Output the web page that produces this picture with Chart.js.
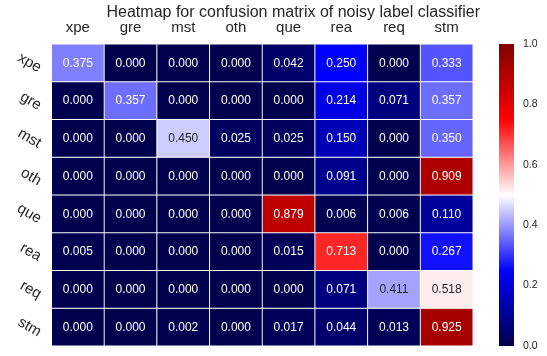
<!DOCTYPE html>
<html>
<head>
<meta charset="utf-8">
<script src="https://cdn.jsdelivr.net/npm/chart.js@4.4.1/dist/chart.umd.min.js"></script>
<style>
    html, body { margin: 0; padding: 0; background: #fff; }
    #wrap { position: relative; width: 547px; height: 356px; }
    #heat { position: absolute; left: 0; top: 0; }
    #bar { position: absolute; left: 490px; top: 0; }
</style>
</head>
<body>
<div id="wrap">
    <canvas id="heat" width="480" height="356"></canvas>
    <canvas id="bar" width="57" height="356"></canvas>
</div>
<script>
// ---------- 数据 ----------
const colLabels = ['xpe', 'gre', 'mst', 'oth', 'que', 'rea', 'req', 'stm'];
const rowLabels = ['xpe', 'gre', 'mst', 'oth', 'que', 'rea', 'req', 'stm'];

const rowXpe = [0.375, 0.000, 0.000, 0.000, 0.042, 0.250, 0.000, 0.333];
const rowGre = [0.000, 0.357, 0.000, 0.000, 0.000, 0.214, 0.071, 0.357];
const rowMst = [0.000, 0.000, 0.450, 0.025, 0.025, 0.150, 0.000, 0.350];
const rowOth = [0.000, 0.000, 0.000, 0.000, 0.000, 0.091, 0.000, 0.909];
const rowQue = [0.000, 0.000, 0.000, 0.000, 0.879, 0.006, 0.006, 0.110];
const rowRea = [0.005, 0.000, 0.000, 0.000, 0.015, 0.713, 0.000, 0.267];
const rowReq = [0.000, 0.000, 0.000, 0.000, 0.000, 0.071, 0.411, 0.518];
const rowStm = [0.000, 0.000, 0.002, 0.000, 0.017, 0.044, 0.013, 0.925];

const rows = [rowXpe, rowGre, rowMst, rowOth, rowQue, rowRea, rowReq, rowStm];

const cbTicks = [0, 0.2, 0.4, 0.6, 0.8, 1.0];

const FONT = '"Liberation Sans", Arial, sans-serif';
const TXT = '#262626';

// ---------- seismic 色图 ----------
const seismicStops = [[0, 0, 76.5], [0, 0, 255], [255, 255, 255], [255, 0, 0], [127.5, 0, 0]];

function seismic(v) {
    const t = Math.min(Math.max(v, 0), 1) * 4;
    const i = Math.min(Math.floor(t), 3);
    const f = t - i;
    const a = seismicStops[i], b = seismicStops[i + 1];
    return a.map((c, k) => Math.round(c + (b[k] - c) * f));
}

function luminance(rgb) {
    const lin = rgb.map(c => {
        c /= 255;
        return c <= 0.03928 ? c / 12.92 : Math.pow((c + 0.055) / 1.055, 2.4);
    });
    return 0.2126 * lin[0] + 0.7152 * lin[1] + 0.0722 * lin[2];
}

const rgbStr = c => 'rgb(' + c.join(',') + ')';

// 单元格数值
const cellText = {
    id: 'cellText',
    afterDatasetsDraw(chart) {
        const ctx = chart.ctx;
        ctx.save();
        ctx.font = '12px ' + FONT;
        ctx.textAlign = 'center';
        ctx.textBaseline = 'middle';
        chart.data.datasets.forEach((ds, r) => {
            chart.getDatasetMeta(r).data.forEach((bar, c) => {
                const v = ds.values[c];
                ctx.fillStyle = luminance(seismic(v)) > 0.408 ? TXT : '#ffffff';
                ctx.fillText(v.toFixed(3), bar.x, (bar.y + bar.base) / 2 + 0.5);
            });
        });
        ctx.restore();
    }
};

// ---------- 热力图 ----------
const yShift = 0.16;

new Chart(document.getElementById('heat'), {
    type: 'bar',
    data: {
        labels: colLabels,
        datasets: rows.map((vals, r) => ({
            values: vals,
            data: vals.map(() => [r, r + 1]),
            backgroundColor: vals.map(v => rgbStr(seismic(v))),
            borderColor: '#ffffff',
            borderWidth: 0.8,
            borderSkipped: false,
            grouped: false,
            barPercentage: 1,
            categoryPercentage: 1,
        }))
    },
    options: {
        responsive: false,
        animation: false,
        events: [],
        layout: { padding: { left: 0, right: 0, top: 0, bottom: 10 } },
        plugins: {
            legend: { display: false },
            tooltip: { enabled: false },
            title: {
                display: true,
                text: 'Heatmap for confusion matrix of noisy label classifier',
                align: 'end',
                color: TXT,
                font: { family: FONT, size: 16, weight: 'normal' },
                padding: { top: 3, bottom: 0 }
            }
        },
        scales: {
            x: {
                position: 'top',
                grid: { display: false, drawTicks: false },
                border: { display: false },
                ticks: { color: TXT, font: { family: FONT, size: 15 }, padding: 7 },
                afterFit: s => { s.height = 21.8; s.paddingLeft = 0; s.paddingRight = 0; }
            },
            y: {
                min: 0,
                max: 8,
                reverse: true,
                grid: { display: false, drawTicks: false },
                border: { display: false },
                ticks: {
                    color: TXT,
                    font: { family: FONT, size: 15 },
                    padding: 11.5,
                    minRotation: -30,
                    maxRotation: -30,
                    callback: (v, i) => rowLabels[i]
                },
                afterBuildTicks: s => { s.ticks = rowLabels.map((_, i) => ({ value: i + 0.5 + yShift })); },
                afterFit: s => { s.width = 51.5; s.paddingTop = 0; s.paddingBottom = 0; }
            },
            yR: {
                position: 'right',
                grid: { display: false, drawTicks: false },
                border: { display: false },
                ticks: { display: false },
                afterFit: s => { s.width = 7; s.paddingTop = 0; s.paddingBottom = 0; }
            }
        }
    },
    plugins: [cellText]
});

// ---------- 色条 ----------
new Chart(document.getElementById('bar'), {
    type: 'bar',
    data: {
        labels: [''],
        datasets: [{
            data: [[0, 1]],
            backgroundColor: ctx => {
                const area = ctx.chart.chartArea;
                if (!area) return '#fff';
                const g = ctx.chart.ctx.createLinearGradient(0, area.bottom, 0, area.top);
                seismicStops.forEach((c, i) => g.addColorStop(i / 4, rgbStr(c.map(Math.round))));
                return g;
            },
            borderWidth: 0,
            barPercentage: 1,
            categoryPercentage: 1,
        }]
    },
    options: {
        responsive: false,
        animation: false,
        events: [],
        layout: { padding: { left: 9, right: 0, top: 44, bottom: 10 } },
        plugins: { legend: { display: false }, tooltip: { enabled: false } },
        scales: {
            x: { display: false },
            y: {
                position: 'right',
                min: 0,
                max: 1,
                grid: { display: false, drawTicks: false },
                border: { display: false },
                ticks: {
                    color: TXT,
                    font: { family: FONT, size: 10.5 },
                    padding: 9,
                    callback: v => v.toFixed(1)
                },
                afterBuildTicks: s => { s.ticks = cbTicks.map(v => ({ value: v })); },
                afterFit: s => { s.width = 33; s.paddingTop = 0; s.paddingBottom = 0; }
            }
        }
    }
});
</script>
</body>
</html>
